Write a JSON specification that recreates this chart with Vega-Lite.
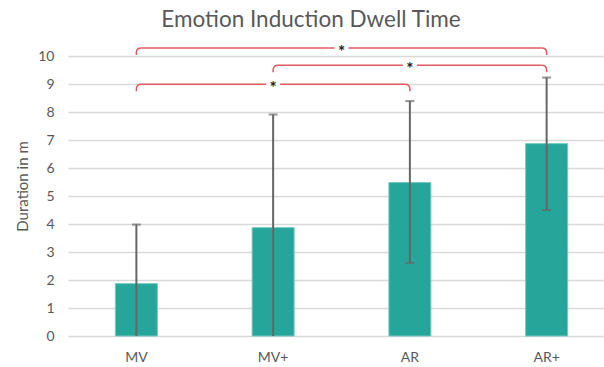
{
  "$schema": "https://vega.github.io/schema/vega-lite/v6.json",
  "width": 536,
  "height": 280,
  "autosize": {"type": "none"},
  "padding": {"left": 68, "top": 56, "right": 0, "bottom": 31},
  "background": "white",
  "config": {
    "view": {"stroke": null},
    "font": "Lato",
    "axis": {"labelFont": "Lato", "titleFont": "Lato"}
  },
  "title": {
    "text": "Emotion Induction Dwell Time",
    "fontSize": 22.5,
    "font": "Lato",
    "fontWeight": "normal",
    "color": "#595959",
    "anchor": "middle",
    "dx": -25,
    "dy": 19,
    "baseline": "alphabetic",
    "offset": 10
  },
  "datasets": {
    "bars": [
      {"group": "MV", "mean": 1.87, "low": 0, "high": 3.98},
      {"group": "MV+", "mean": 3.87, "low": 0, "high": 7.91},
      {"group": "AR", "mean": 5.48, "low": 2.61, "high": 8.39},
      {"group": "AR+", "mean": 6.87, "low": 4.5, "high": 9.23}
    ],
    "brackets": [
      {"from": "MV", "to": "AR+", "level": 10.29},
      {"from": "MV+", "to": "AR+", "level": 9.67},
      {"from": "MV", "to": "AR", "level": 8.99}
    ]
  },
  "layer": [
    {
      "data": {"name": "bars"},
      "mark": {"type": "bar", "width": 42, "color": "#26a69a", "stroke": "#74c9bf", "strokeWidth": 1},
      "encoding": {
        "x": {
          "field": "group", "type": "nominal",
          "scale": {"domain": ["MV", "MV+", "AR", "AR+"], "range": [0, 547], "paddingInner": 0, "paddingOuter": 0},
          "axis": {"title": null, "labelAngle": 0, "ticks": false, "domain": false, "labelFontSize": 14, "labelColor": "#595959", "labelPadding": 14}
        },
        "y": {
          "field": "mean", "type": "quantitative",
          "scale": {"domain": [0, 10], "nice": false},
          "axis": {
            "title": "Duration in m", "titleFontSize": 15, "titleFontWeight": "normal", "titleColor": "#595959", "titlePadding": 7, "titleY": 130,
            "tickCount": 11, "labelOverlap": false,
            "grid": true, "gridColor": "#d9d9d9", "gridWidth": 1.5,
            "domain": false, "ticks": false,
            "labelFontSize": 14, "labelColor": "#595959", "labelPadding": 14
          }
        }
      }
    },
    {
      "data": {"name": "bars"},
      "mark": {"type": "rule", "color": "#666666", "strokeWidth": 2},
      "encoding": {
        "x": {"field": "group", "type": "nominal"},
        "y": {"field": "low", "type": "quantitative"},
        "y2": {"field": "high"}
      }
    },
    {
      "data": {"name": "bars"},
      "mark": {"type": "tick", "color": "#666666", "size": 9, "thickness": 2},
      "encoding": {
        "x": {"field": "group", "type": "nominal"},
        "y": {"field": "high", "type": "quantitative"}
      }
    },
    {
      "data": {"name": "bars"},
      "transform": [{"filter": "datum.low > 0"}],
      "mark": {"type": "tick", "color": "#666666", "size": 9, "thickness": 2},
      "encoding": {
        "x": {"field": "group", "type": "nominal"},
        "y": {"field": "low", "type": "quantitative"}
      }
    },
    {
      "data": {"name": "brackets"},
      "mark": {"type": "rule", "color": "#e05a63", "strokeWidth": 1.5, "xOffset": 4.9, "x2Offset": -4.9},
      "encoding": {
        "x": {"field": "from", "type": "nominal"},
        "x2": {"field": "to"},
        "y": {"field": "level", "type": "quantitative"}
      }
    },
    {
      "data": {"name": "brackets"},
      "mark": {"type": "point", "filled": false, "color": "#e05a63", "strokeWidth": 1.5, "size": 196, "shape": "M0,1 L0,0.7 Q0,0 0.7,0", "opacity": 1},
      "encoding": {
        "x": {"field": "from", "type": "nominal"},
        "y": {"field": "level", "type": "quantitative"}
      }
    },
    {
      "data": {"name": "brackets"},
      "mark": {"type": "point", "filled": false, "color": "#e05a63", "strokeWidth": 1.5, "size": 196, "shape": "M0,1 L0,0.7 Q0,0 -0.7,0", "opacity": 1},
      "encoding": {
        "x": {"field": "to", "type": "nominal"},
        "y": {"field": "level", "type": "quantitative"}
      }
    },
    {
      "data": {"values": [{"mid": "MV+", "level": 10.29, "label": "*"}]},
      "encoding": {
        "x": {"field": "mid", "type": "nominal", "bandPosition": 1},
        "y": {"field": "level", "type": "quantitative"}
      },
      "layer": [
        {"mark": {"type": "point", "shape": "square", "filled": true, "color": "white", "size": 196, "opacity": 1}},
        {"mark": {"type": "text", "fontSize": 17, "fontWeight": "bold", "color": "#222222", "baseline": "middle", "dy": 5}, "encoding": {"text": {"field": "label"}}}
      ]
    },
    {
      "data": {"values": [{"mid": "AR", "level": 9.67, "label": "*"}, {"mid": "MV+", "level": 8.99, "label": "*"}]},
      "encoding": {
        "x": {"field": "mid", "type": "nominal", "bandPosition": 0.5},
        "y": {"field": "level", "type": "quantitative"}
      },
      "layer": [
        {"mark": {"type": "point", "shape": "square", "filled": true, "color": "white", "size": 196, "opacity": 1}},
        {"mark": {"type": "text", "fontSize": 17, "fontWeight": "bold", "color": "#222222", "baseline": "middle", "dy": 5}, "encoding": {"text": {"field": "label"}}}
      ]
    }
  ]
}
